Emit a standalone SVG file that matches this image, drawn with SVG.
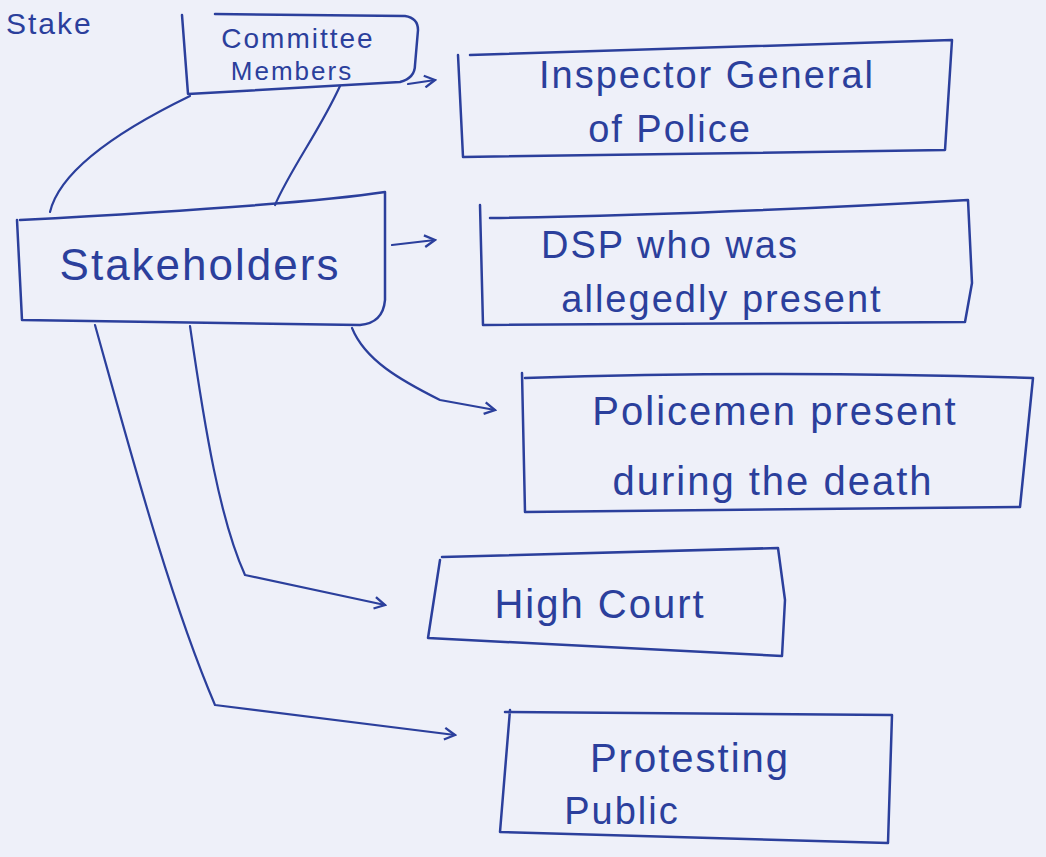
<svg xmlns="http://www.w3.org/2000/svg" width="1046" height="857" viewBox="0 0 1046 857">
<style>
.box{fill:none;stroke:#2b3f9c;stroke-width:2.5;stroke-linejoin:round;stroke-linecap:round}
.ln{fill:none;stroke:#2b3f9c;stroke-width:2.2;stroke-linecap:round;stroke-linejoin:round}
.t{font-family:"Liberation Sans",Arial,sans-serif;fill:#2b3f9c;text-anchor:middle;letter-spacing:2px}
</style>
<defs>
<marker id="ah" viewBox="0 0 12 12" refX="10" refY="6" markerWidth="14" markerHeight="14" markerUnits="userSpaceOnUse" orient="auto">
<path d="M1,1 L10,6 L1,11" fill="none" stroke="#2b3f9c" stroke-width="2"/>
</marker>
</defs>
<rect width="1046" height="857" fill="#eef0f9"/>
<text class="t" x="6" y="34" font-size="30" style="text-anchor:start">Stake</text>
<g id="connectors">
<path class="ln" marker-end="url(#ah)" d="M408,84 L435,80"/>
<path class="ln" d="M190,96 C120,130 60,170 50,212"/>
<path class="ln" d="M340,86 C320,130 290,170 275,205"/>
<path class="ln" marker-end="url(#ah)" d="M392,245 L435,240"/>
<path class="ln" marker-end="url(#ah)" d="M352,328 C365,360 400,380 440,400 L495,410"/>
<path class="ln" marker-end="url(#ah)" d="M190,326 C205,430 220,520 245,575 L385,605"/>
<path class="ln" marker-end="url(#ah)" d="M95,325 C130,450 170,600 215,705 L455,735"/>
</g>
<g id="committee">
<path class="box" d="M182,15 L188,94 L400,82 Q415,78 415,65 L418,30 Q418,18 405,16 L215,14"/>
<text class="t" x="298" y="48" font-size="28">Committee</text>
<text class="t" x="292" y="80" font-size="26">Members</text>
</g>
<g id="inspector">
<path class="box" d="M458,55 L463,157 L945,150 L952,40 L470,55"/>
<text class="t" x="707" y="88" font-size="38">Inspector General</text>
<text class="t" x="670" y="142" font-size="38">of Police</text>
</g>
<g id="stakeholders">
<path class="box" d="M17,220 L22,320 L360,325 Q383,323 385,300 L385,192 Q300,205 20,220"/>
<text class="t" x="200" y="280" font-size="44">Stakeholders</text>
</g>
<g id="dsp">
<path class="box" d="M480,205 L483,325 L965,322 L972,283 L968,200 Q700,215 490,218"/>
<text class="t" x="670" y="258" font-size="38">DSP who was</text>
<text class="t" x="722" y="312" font-size="38">allegedly present</text>
</g>
<g id="policemen">
<path class="box" d="M522,373 L525,512 L1020,507 L1033,378 Q780,370 525,378"/>
<text class="t" x="775" y="425" font-size="40">Policemen present</text>
<text class="t" x="773" y="495" font-size="40">during the death</text>
</g>
<g id="highcourt">
<path class="box" d="M440,560 L428,638 L782,656 L785,600 L778,548 L442,557"/>
<text class="t" x="600" y="618" font-size="40">High Court</text>
</g>
<g id="protesting">
<path class="box" d="M510,710 L500,832 L888,843 L892,715 L505,712"/>
<text class="t" x="690" y="772" font-size="40">Protesting</text>
<text class="t" x="622" y="824" font-size="38">Public</text>
</g>
</svg>
